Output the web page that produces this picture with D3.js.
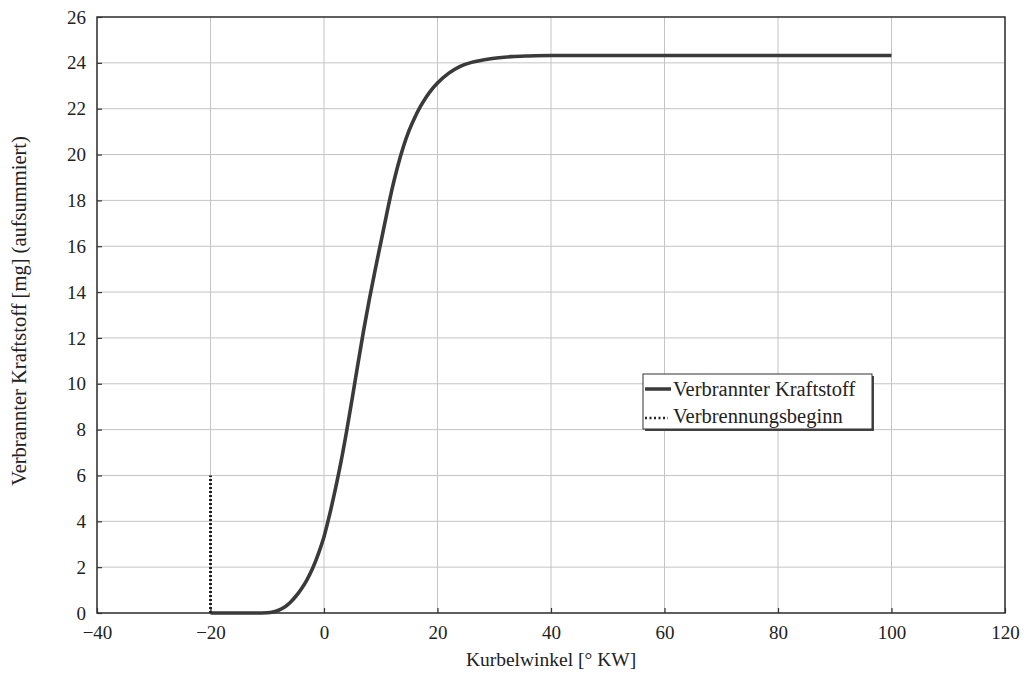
<!DOCTYPE html>
<html>
<head>
<meta charset="utf-8">
<script src="https://cdn.jsdelivr.net/npm/d3@7"></script>
<style>
  body { margin: 0; background: #fff; }
  text { font-family: "Liberation Serif", "DejaVu Serif", serif; fill: #222; }
</style>
</head>
<body>
<svg id="chart" width="1028" height="673"></svg>
<script>
// crank angle [deg CA] and summed burnt fuel [mg]
const angle = [-20, -12, -10, -9, -8, -7, -6, -5, -4, -3, -2, -1, 0, 1, 2, 3, 4, 5, 6, 7, 8, 9, 10,
  11, 12, 13, 14, 15, 16, 17, 18, 19, 20, 22, 24, 26, 28, 30, 33, 36, 40, 60, 80, 100]
const fuel = [0, 0, 0.01, 0.04, 0.12, 0.25, 0.45, 0.72, 1.05, 1.45, 1.95, 2.58, 3.33, 4.3, 5.4, 6.6, 7.95, 9.4, 10.9, 12.35, 13.7, 14.95, 16.15,
  17.35, 18.5, 19.5, 20.35, 21.05, 21.62, 22.1, 22.5, 22.84, 23.12, 23.55, 23.85, 24.02, 24.12, 24.2, 24.27, 24.3, 24.32, 24.32, 24.32, 24.32]

// start of combustion marker
const startAngle = [-20, -20]
const startLevel = [0, 6]

const xTicks = [-40, -20, 0, 20, 40, 60, 80, 100, 120]
const yTicks = [0, 2, 4, 6, 8, 10, 12, 14, 16, 18, 20, 22, 24, 26]

const legendLabels = ['Verbrannter Kraftstoff', 'Verbrennungsbeginn']

const svg = d3.select('#chart')
const plot = {left: 97, right: 1005, top: 17, bottom: 613}

const x = d3.scaleLinear().domain([-40, 120]).range([plot.left, plot.right])
const y = d3.scaleLinear().domain([0, 26]).range([plot.bottom, plot.top])

// grid
const grid = svg.append('g')
grid.selectAll('.gx').data(xTicks).join('line')
  .attr('x1', d => x(d)).attr('x2', d => x(d))
  .attr('y1', plot.top).attr('y2', plot.bottom)
  .attr('stroke', '#c4c4c4').attr('stroke-width', 1)
grid.selectAll('.gy').data(yTicks).join('line')
  .attr('x1', plot.left).attr('x2', plot.right)
  .attr('y1', d => y(d)).attr('y2', d => y(d))
  .attr('stroke', '#c4c4c4').attr('stroke-width', 1)

// axes with inner ticks
const xAxis = svg.append('g')
  .attr('transform', `translate(0,${plot.bottom})`)
  .call(d3.axisBottom(x).tickValues(xTicks).tickSize(-5).tickPadding(13).tickFormat(d => d < 0 ? '\u2212' + Math.abs(d) : d))
const yAxis = svg.append('g')
  .attr('transform', `translate(${plot.left},0)`)
  .call(d3.axisLeft(y).tickValues(yTicks).tickSize(-5).tickPadding(11))

;[xAxis, yAxis].forEach(a => {
  a.attr('font-family', null)
  a.select('.domain').remove()
  a.selectAll('.tick line').attr('stroke', '#333').attr('stroke-width', 1.2)
  a.selectAll('.tick text')
    .style('font-family', '"Liberation Serif", serif')
    .style('font-size', '19px')
    .attr('fill', '#222')
})

// frame
svg.append('rect')
  .attr('x', plot.left).attr('y', plot.top)
  .attr('width', plot.right - plot.left).attr('height', plot.bottom - plot.top)
  .attr('fill', 'none').attr('stroke', '#333').attr('stroke-width', 1.5)

// curves
const line = d3.line()
  .x((d, i) => x(angle[i]))
  .y(d => y(d))
  .curve(d3.curveMonotoneX)

svg.append('path')
  .datum(fuel)
  .attr('d', line)
  .attr('fill', 'none')
  .attr('stroke', '#3a3a3a')
  .attr('stroke-width', 3.6)
  .attr('stroke-linejoin', 'round')

svg.append('line')
  .attr('x1', x(startAngle[0])).attr('x2', x(startAngle[1]))
  .attr('y1', y(startLevel[0])).attr('y2', y(startLevel[1]))
  .attr('stroke', '#222')
  .attr('stroke-width', 3)
  .attr('stroke-dasharray', '2,2')

// legend
const lg = svg.append('g').attr('transform', 'translate(643,374)')
lg.append('rect').attr('x', 2).attr('y', 2).attr('width', 229).attr('height', 55).attr('fill', '#444')
lg.append('rect').attr('x', 0).attr('y', 0).attr('width', 229).attr('height', 55)
  .attr('fill', '#fff').attr('stroke', '#333').attr('stroke-width', 1)
lg.append('line').attr('x1', 2).attr('x2', 28).attr('y1', 15).attr('y2', 15)
  .attr('stroke', '#3a3a3a').attr('stroke-width', 3.5)
lg.append('line').attr('x1', 2).attr('x2', 25).attr('y1', 44).attr('y2', 44)
  .attr('stroke', '#222').attr('stroke-width', 2.5).attr('stroke-dasharray', '2,2.5')
lg.selectAll('.lt').data(legendLabels).join('text')
  .attr('x', 30)
  .attr('y', (d, i) => 22 + i * 27)
  .style('font-size', '20.5px')
  .text(d => d)

// axis titles
svg.append('text')
  .attr('x', x(40)).attr('y', 666)
  .attr('text-anchor', 'middle')
  .style('font-size', '19.5px')
  .text('Kurbelwinkel [° KW]')

svg.append('text')
  .attr('transform', 'translate(26,311) rotate(-90)')
  .attr('text-anchor', 'middle')
  .style('font-size', '20.5px')
  .text('Verbrannter Kraftstoff [mg] (aufsummiert)')
</script>
</body>
</html>
